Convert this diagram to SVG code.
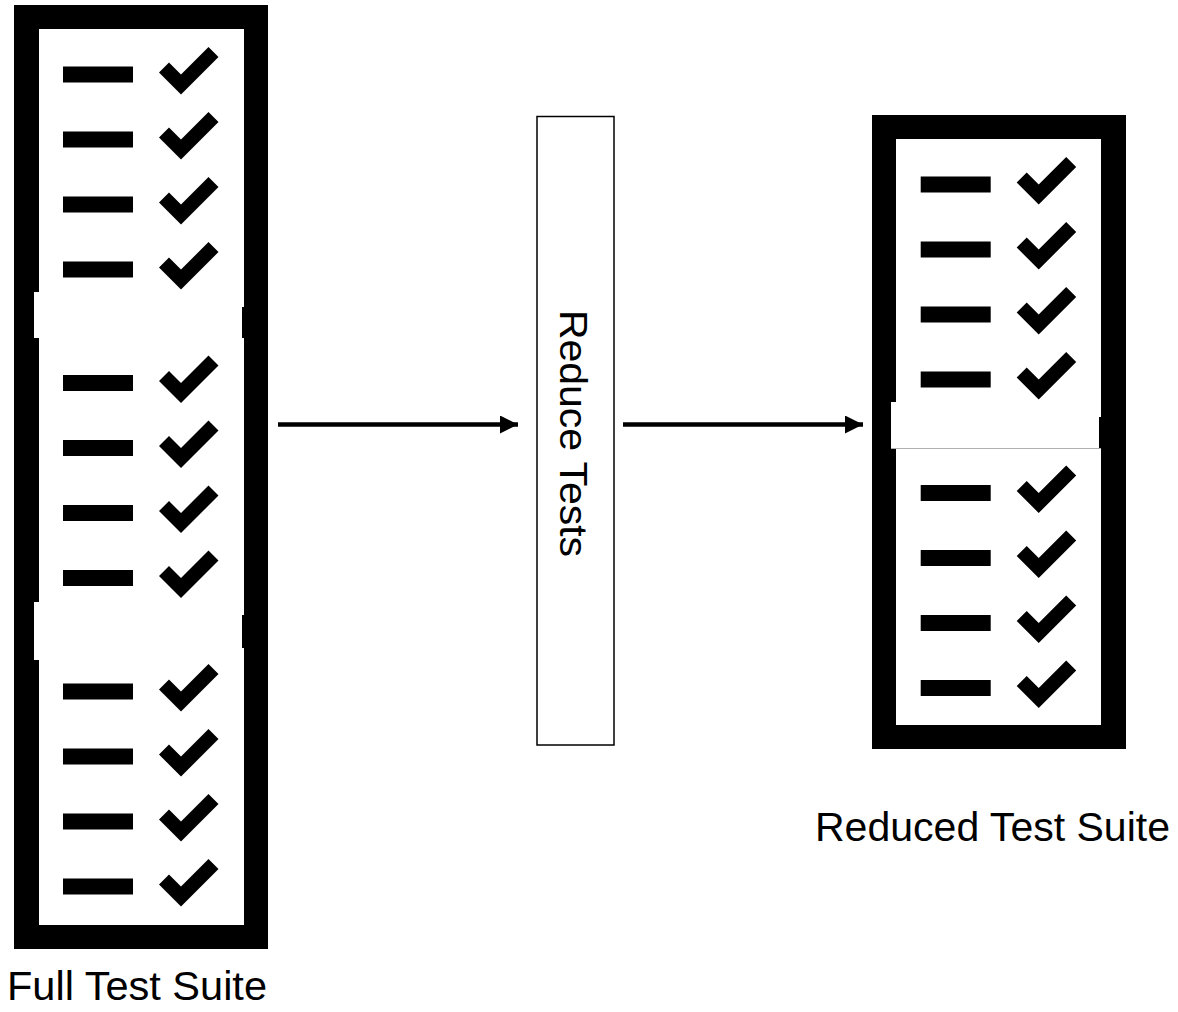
<svg xmlns="http://www.w3.org/2000/svg" xmlns:xlink="http://www.w3.org/1999/xlink" width="1178" height="1012" viewBox="0 0 1178 1012">
  <style>
    .label { font-family: "Liberation Sans", Arial, sans-serif; font-size: 40px; fill: #000; }
    .vlabel { font-family: "Liberation Sans", Arial, sans-serif; font-size: 38px; fill: #000; }
    .frame { fill: #000; }
    .inner { fill: #fff; }
    .conn { stroke: #000; stroke-width: 4.5; fill: none; }
  </style>
  <defs>
    <g id="row">
      <rect x="0" y="-8" width="70" height="16" fill="#000"/>
      <polygon points="96,-2 106,-12 118,0 145.5,-27.5 155.5,-17.5 118,20" fill="#000"/>
    </g>
    <marker id="arrow" markerUnits="userSpaceOnUse" markerWidth="18" markerHeight="18" refX="18" refY="9" orient="auto" viewBox="0 0 18 18">
      <path d="M0,0 L18,9 L0,18 Z" fill="#000"/>
    </marker>
  </defs>
  <rect width="1178" height="1012" fill="#fff"/>

  <g id="full-suite">
    <rect class="frame" x="14" y="5" width="254" height="944"/>
    <rect class="inner" x="39" y="29" width="205" height="896"/>
    <rect class="inner" x="34" y="292" width="5" height="46"/>
    <rect class="frame" x="242" y="307" width="2" height="31"/>
    <rect class="inner" x="34" y="602" width="5" height="58"/>
    <rect class="frame" x="242" y="615" width="2" height="33"/>
    <use xlink:href="#row" x="63" y="74.5"/>
    <use xlink:href="#row" x="63" y="139.5"/>
    <use xlink:href="#row" x="63" y="204.5"/>
    <use xlink:href="#row" x="63" y="269.5"/>
    <use xlink:href="#row" x="63" y="383"/>
    <use xlink:href="#row" x="63" y="448"/>
    <use xlink:href="#row" x="63" y="513"/>
    <use xlink:href="#row" x="63" y="578"/>
    <use xlink:href="#row" x="63" y="691.5"/>
    <use xlink:href="#row" x="63" y="756.5"/>
    <use xlink:href="#row" x="63" y="821.5"/>
    <use xlink:href="#row" x="63" y="886.5"/>
    <text class="label" x="7" y="1000" textLength="260" lengthAdjust="spacingAndGlyphs">Full Test Suite</text>
  </g>

  <g id="reduce">
    <rect x="537" y="116.5" width="77" height="628.5" fill="#fff" stroke="#000" stroke-width="1.5"/>
    <text class="vlabel" transform="translate(560,310) rotate(90)" textLength="247" lengthAdjust="spacingAndGlyphs">Reduce Tests</text>
  </g>

  <g id="reduced-suite">
    <rect class="frame" x="872" y="115" width="254" height="634"/>
    <rect class="inner" x="896" y="139" width="205" height="586"/>
    <rect class="inner" x="891" y="402" width="5" height="46"/>
    <rect class="frame" x="1099" y="417" width="2" height="31"/>
    <line x1="891" y1="448.5" x2="1101" y2="448.5" stroke="#b0b0b0" stroke-width="1"/>
    <use xlink:href="#row" x="920.7" y="184.5"/>
    <use xlink:href="#row" x="920.7" y="249.5"/>
    <use xlink:href="#row" x="920.7" y="314.5"/>
    <use xlink:href="#row" x="920.7" y="379.5"/>
    <use xlink:href="#row" x="920.7" y="493"/>
    <use xlink:href="#row" x="920.7" y="558"/>
    <use xlink:href="#row" x="920.7" y="623"/>
    <use xlink:href="#row" x="920.7" y="688"/>
    <text class="label" x="815" y="841" textLength="355" lengthAdjust="spacingAndGlyphs">Reduced Test Suite</text>
  </g>

  <g id="connectors">
    <line class="conn" x1="278" y1="424.5" x2="518" y2="424.5" marker-end="url(#arrow)"/>
    <line class="conn" x1="623" y1="424.5" x2="863" y2="424.5" marker-end="url(#arrow)"/>
  </g>
</svg>
